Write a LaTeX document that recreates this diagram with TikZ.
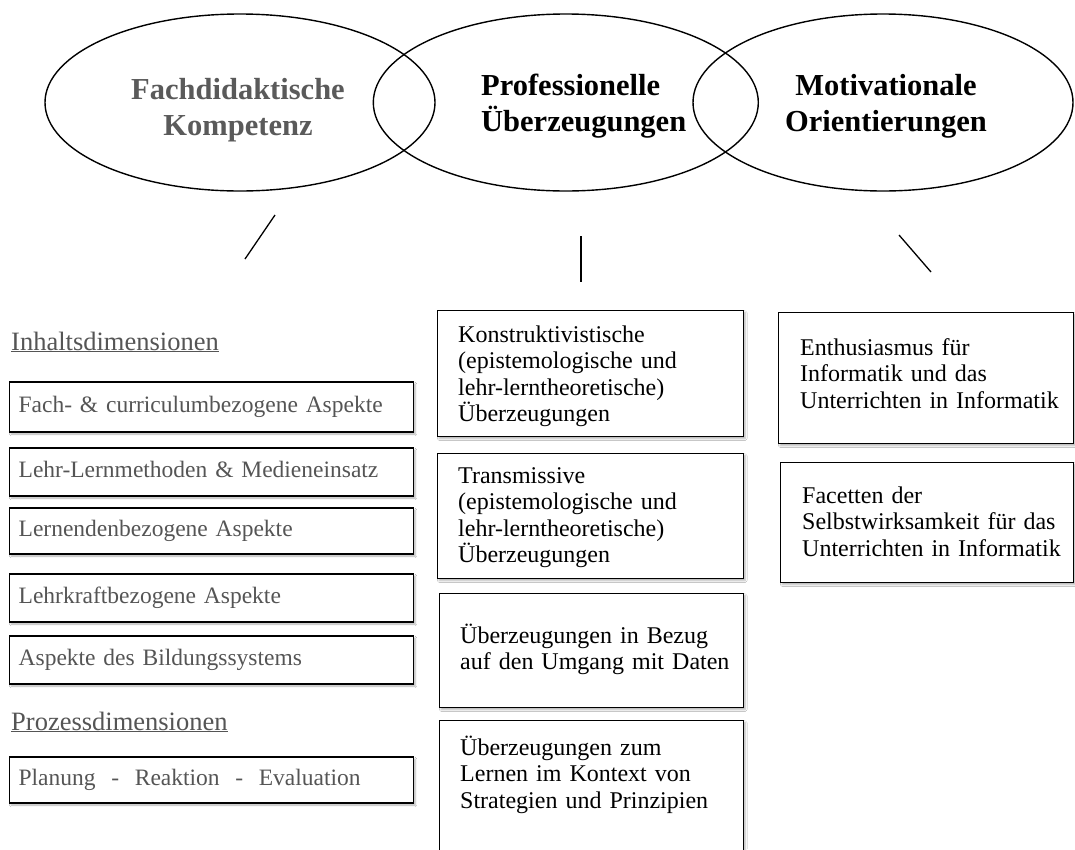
\documentclass[tikz,border=0pt]{standalone}
\usepackage{fontspec}
\setmainfont{Liberation Serif}
\usetikzlibrary{shapes.geometric,shadows.blur}
\definecolor{txtgray}{HTML}{555555}
\definecolor{headgray}{HTML}{5A5A5A}
\begin{document}
\begin{tikzpicture}[x=1pt,y=-1pt,
  oval/.style={draw, line width=1.4pt, ellipse, inner sep=0pt},
  headtxt/.style={font=\fontsize{30.5}{36.5}\selectfont\bfseries, inner sep=0pt, anchor=base, text width=300pt},
  conn/.style={line width=1.3pt},
  sh/.style={blur shadow={shadow xshift=1.5pt, shadow yshift=-2pt, shadow blur steps=5, shadow opacity=30}},
  lhead/.style={font=\fontsize{26.5}{30}\selectfont, text=txtgray, inner sep=0pt, anchor=base west},
  lbox/.style={draw, line width=1.3pt, fill=white, sh, anchor=west, text width=386pt, inner xsep=9pt, inner ysep=0pt,
    align=left, text=txtgray, font=\fontsize{23.5}{26.5}\selectfont, text height=16pt, text depth=5pt},
  mbox/.style={draw, line width=1.3pt, fill=white, sh, anchor=north west, inner sep=0pt},
  mtxt/.style={anchor=base west, inner sep=0pt, align=left, text width=285pt, font=\fontsize{24}{26.5}\selectfont}
]
\useasboundingbox (0,0) rectangle (1075,849);
\fill[white] (0,0) rectangle (1075,849);

% ellipses
\node[oval, minimum width=390pt, minimum height=177pt] (fk) at (240,102.5) {};
\node[oval, minimum width=385pt, minimum height=177pt] (pu) at (565.8,102.5) {};
\node[oval, minimum width=380pt, minimum height=177pt] (mo) at (883,102.5) {};

\node[headtxt, align=center, text=headgray] (fkt) at (238,99) {Fachdidaktische\\Kompetenz};
\node[headtxt, align=left, anchor=base west, text width=250pt] (put) at (481,95) {Professionelle\\Überzeugungen};
\node[headtxt, align=center] (mot) at (886,95) {Motivationale\\Orientierungen};

% connectors
\coordinate (l1a) at (245,259);
\coordinate (l1b) at (275,215);
\coordinate (l2a) at (581,236);
\coordinate (l2b) at (581,282);
\coordinate (l3a) at (899,235);
\coordinate (l3b) at (931,272);
\draw[conn] (l1a) -- (l1b);
\draw[conn] (l2a) -- (l2b);
\draw[conn] (l3a) -- (l3b);

% left column
\node[lhead] (inh) at (11,350) {\underline{Inhaltsdimensionen}};
\node[lbox, minimum height=50pt] (b1) at (9,407) {Fach- \& curriculumbezogene Aspekte};
\node[lbox, minimum height=48pt] (b2) at (9,472) {Lehr-Lernmethoden \& Medieneinsatz};
\node[lbox, minimum height=46pt] (b3) at (9,531) {Lernendenbezogene Aspekte};
\node[lbox, minimum height=48pt] (b4) at (9,598) {Lehrkraftbezogene Aspekte};
\node[lbox, minimum height=48pt] (b5) at (9,660) {Aspekte des Bildungssystems};
\node[lhead] (proz) at (11,730) {\underline{Prozessdimensionen}};
\node[lbox, minimum height=46pt] (b6) at (9,780) {Planung\ \ -\ \ Reaktion\ \ -\ \ Evaluation};

% middle column
\node[mbox, minimum width=306pt, minimum height=126pt] (kb) at (437,310) {};
\node[mtxt] (kt) at (458,342) {Konstruktivistische\\(epistemologische und\\lehr-lerntheoretische)\\Überzeugungen};
\node[mbox, minimum width=306pt, minimum height=125pt] (tb) at (437,453) {};
\node[mtxt] (tt) at (458,483) {Transmissive\\(epistemologische und\\lehr-lerntheoretische)\\Überzeugungen};
\node[mbox, minimum width=304pt, minimum height=114pt] (db) at (439,593) {};
\node[mtxt] (dt) at (460,643) {Überzeugungen in Bezug\\auf den Umgang mit Daten};
\node[mbox, minimum width=304pt, minimum height=145pt] (sb) at (439,720) {};
\node[mtxt] (st) at (460,755) {Überzeugungen zum\\Lernen im Kontext von\\Strategien und Prinzipien};

% right column
\node[mbox, minimum width=295pt, minimum height=131pt] (eb) at (778,312) {};
\node[mtxt, text width=270pt] (et) at (800,355) {Enthusiasmus für\\Informatik und das\\Unterrichten in Informatik};
\node[mbox, minimum width=293pt, minimum height=120pt] (fb) at (780,462) {};
\node[mtxt, text width=270pt] (ft) at (802,503) {Facetten der\\Selbstwirksamkeit für das\\Unterrichten in Informatik};
\end{tikzpicture}
\end{document}
